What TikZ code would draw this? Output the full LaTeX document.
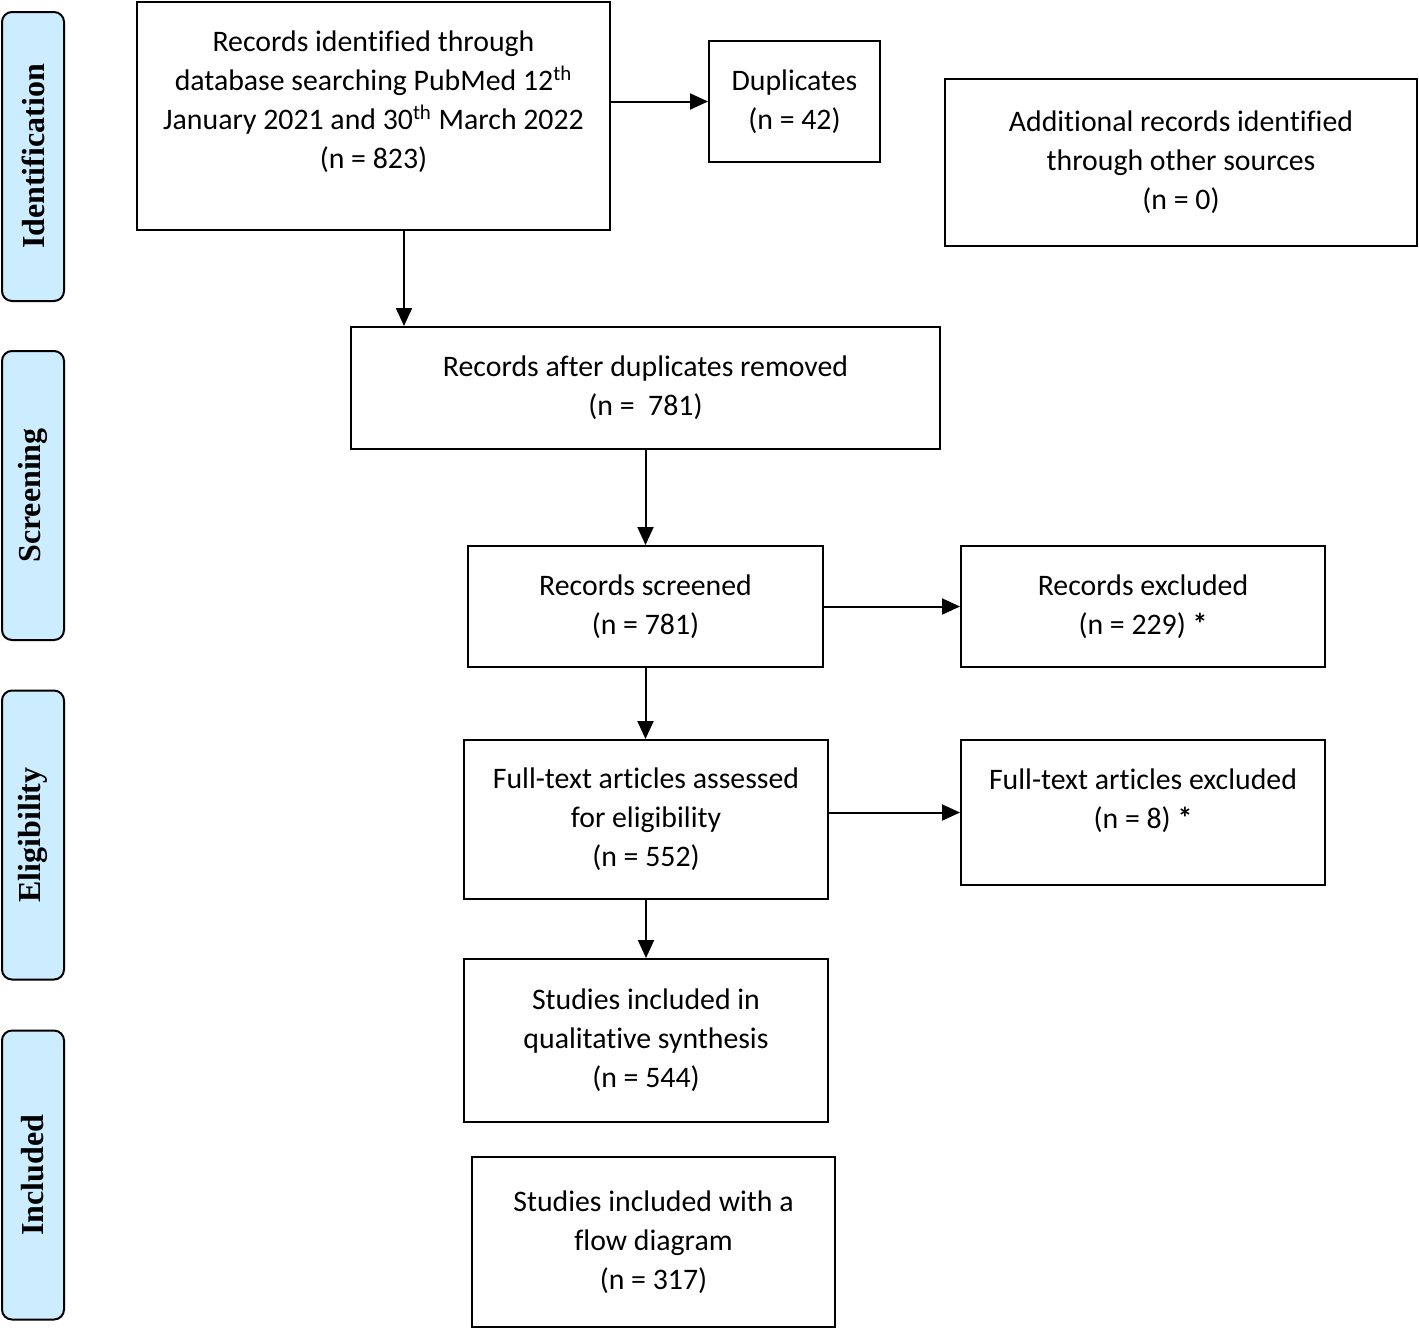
\documentclass[tikz,border=0pt]{standalone}
\usepackage{fontspec}
\setmainfont{Carlito}[Ligatures=NoCommon]
\newfontfamily\etapafont{Liberation Serif}
\usetikzlibrary{arrows.meta}
\definecolor{azulclaro}{RGB}{204,236,255}

\begin{document}
\begin{tikzpicture}[x=0.5pt,y=-0.5pt,
    caja/.style={draw, line width=1pt, align=center, inner sep=0pt,
      font=\fontsize{14.9}{19.5}\selectfont},
    etapa/.style={draw, line width=1pt, fill=azulclaro, rounded corners=5pt,
      rotate=90, minimum width=144.5pt, minimum height=31pt, inner sep=0pt,
      font=\etapafont\bfseries\fontsize{16}{19}\selectfont},
    flecha/.style={line width=1pt, -{Triangle[length=9pt,width=8pt]}}]
        \useasboundingbox (0,0) rectangle (1419,1330);

        % Paso 1: Etapas a la izquierda
        \node[etapa] (identif) at (33,156.5) {Identification};
        \node[etapa] (cribado) at (33,495.5) {Screening};
        \node[etapa] (elegib)  at (33,835)   {Eligibility};
        \node[etapa] (incluido) at (33,1175) {Included};

        % Paso 2: Cajas de identificacion
        \node[caja, minimum width=236.5pt, minimum height=114pt] (ident) at (373.5,116)
            {Records identified through\\ database searching PubMed 12\textsuperscript{th}\\
             January 2021 and 30\textsuperscript{th} March 2022\\ (n = 823)\\[-3.5pt]\mbox{}};
        \node[caja, minimum width=85.5pt, minimum height=60.5pt] (dup) at (794.5,101.5)
            {Duplicates\\ (n = 42)};
        \node[caja, minimum width=236pt, minimum height=83.5pt] (otras) at (1181,162.5)
            {Additional records identified\\ through other sources\\ (n = 0)};

        % Paso 3: Cajas de cribado
        \node[caja, minimum width=294.5pt, minimum height=61pt] (sindup) at (645.5,388)
            {Records after duplicates removed\\ (n = ~781)};
        \node[caja, minimum width=177.5pt, minimum height=60.5pt] (cribados) at (645.5,606.5)
            {Records screened\\ (n = 781)};
        \node[caja, minimum width=182pt, minimum height=60.5pt] (excl) at (1143,606.5)
            {Records excluded\\ (n = 229) \textbf{*}};

        % Paso 4: Cajas de elegibilidad
        \node[caja, minimum width=182pt, minimum height=79.5pt] (texto) at (646,819.5)
            {Full-text articles assessed\\ for eligibility\\ (n = 552)};
        \node[caja, minimum width=182pt, minimum height=72.5pt] (textoexcl) at (1143,812.5)
            {Full-text articles excluded\\ (n = 8) \textbf{*}\\[-6pt]\mbox{}};

        % Paso 5: Cajas de inclusion
        \node[caja, minimum width=182pt, minimum height=81.5pt] (cualit) at (646,1040.5)
            {Studies included in\\ qualitative synthesis\\ (n = 544)};
        \node[caja, minimum width=181.5pt, minimum height=85pt] (flujo) at (653.5,1242)
            {Studies included with a\\ flow diagram\\ (n = 317)};

        % Paso 6: Flechas
        \draw[flecha] (ident.east |- dup.west) -- (dup.west);
        \draw[flecha] ([xshift=15.25pt]ident.south) -- ([xshift=15.25pt]ident.south |- sindup.north);
        \draw[flecha] (sindup) -- (cribados);
        \draw[flecha] (cribados) -- (excl);
        \draw[flecha] (cribados.south) -- (cribados.south |- texto.north);
        \draw[flecha] (texto.east |- textoexcl.west) -- (textoexcl.west);
        \draw[flecha] (texto) -- (cualit);
    \end{tikzpicture}
\end{document}
